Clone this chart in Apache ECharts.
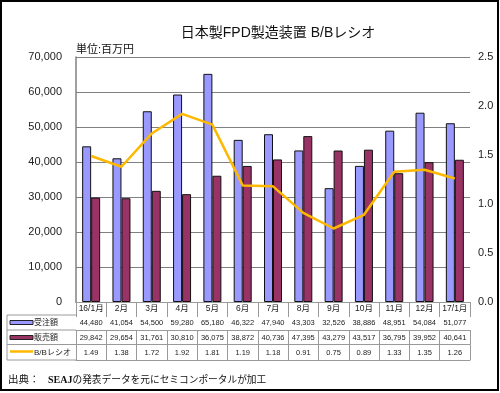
<!DOCTYPE html>
<html>
<head>
<meta charset="utf-8">
<script src="https://cdn.jsdelivr.net/npm/echarts@6/dist/echarts.min.js"></script>
<style>
html,body{margin:0;padding:0;background:#fff;}
#c{width:500px;height:393px;}
</style>
</head>
<body>
<div id="c"></div>
<script>
const title = '日本製FPD製造装置 B/Bレシオ';
const unitLabel = '単位:百万円';
const sourceLabel = '出典：';
const sourceOrg = 'SEAJ';
const sourceText = 'の発表データを元にセミコンポータルが加工';
const categories = ['16/1月','2月','3月','4月','5月','6月','7月','8月','9月','10月','11月','12月','17/1月'];
const seriesNames = ['受注額','販売額','B/Bレシオ'];
const orders = [44480,41054,54500,59280,65180,46322,47940,43303,32526,38886,48951,54084,51077];
const sales  = [29842,29654,31761,30810,36075,38872,40736,47395,43279,43517,36795,39952,40641];
const bbRatio = [1.49,1.38,1.72,1.92,1.81,1.19,1.18,0.91,0.75,0.89,1.33,1.35,1.26];

const fmt = n => String(n).replace(/\B(?=(\d{3})+(?!\d))/g, ',');
const FONT = "'Liberation Sans','Noto Sans CJK JP',sans-serif";
const gridLeft = 76, gridRight = 470, gridTop = 57, gridBottom = 302;
const tableLine = '#9a9a9a';
const rowLines = [315, 330, 344.5, 360];

function tableAxis(offset, tickLen, labels, margin, showLine) {
  return {
    type: 'category', gridIndex: 0, position: 'bottom', offset: offset,
    data: categories,
    boundaryGap: true,
    axisLine: {show: showLine !== false, lineStyle: {color: tableLine, width: 1}},
    axisTick: {show: tickLen > 0, length: tickLen, interval: 0, lineStyle: {color: tableLine}},
    axisLabel: labels ? {show: true, interval: 0, margin: margin, fontSize: 7.5, color: '#222', fontFamily: FONT,
      formatter: (v, i) => labels[i]} : {show: false},
    splitLine: {show: false}
  };
}

const chart = echarts.init(document.getElementById('c'), null, {renderer: 'canvas'});
chart.setOption({
  backgroundColor: '#fff',
  animation: false,
  textStyle: {fontFamily: FONT},
  grid: {left: gridLeft, right: 500 - gridRight, top: gridTop, bottom: 393 - gridBottom, containLabel: false},
  xAxis: [
    {
      type: 'category', data: categories, position: 'bottom', boundaryGap: true,
      axisLine: {show: true, lineStyle: {color: '#808080', width: 1}},
      axisTick: {show: true, length: 13, interval: 0, lineStyle: {color: tableLine}},
      axisLabel: {show: true, interval: 0, margin: 2, fontSize: 8.5, color: '#222', fontFamily: FONT},
      splitLine: {show: false}
    },
    tableAxis(13, 15, orders.map(fmt), 4),
    tableAxis(28, 14.5, sales.map(fmt), 4),
    tableAxis(42.5, 15.5, bbRatio.map(v => v.toFixed(2)), 4.5),
    tableAxis(58, 0, null, 0)
  ],
  yAxis: [
    {
      type: 'value', min: 0, max: 70000, interval: 10000, position: 'left',
      axisLine: {show: true, lineStyle: {color: '#808080', width: 1.5}},
      axisTick: {show: false},
      axisLabel: {margin: 14, fontSize: 11, color: '#222', formatter: v => fmt(v)},
      splitLine: {show: true, lineStyle: {color: '#808080', width: 1}}
    },
    {
      type: 'value', min: 0, max: 2.5, interval: 0.5, position: 'right',
      axisLine: {show: false}, axisTick: {show: false},
      axisLabel: {margin: 8, fontSize: 11, color: '#222', formatter: v => v.toFixed(1)},
      splitLine: {show: false}
    }
  ],
  series: [
    {name: seriesNames[0], type: 'bar', data: orders, barWidth: 9, barGap: '0%',
     itemStyle: {color: '#9999FF', borderColor: '#111', borderWidth: 1}},
    {name: seriesNames[1], type: 'bar', data: sales, barWidth: 9, barGap: '0%',
     itemStyle: {color: '#993366', borderColor: '#111', borderWidth: 1}},
    {name: seriesNames[2], type: 'line', yAxisIndex: 1, data: bbRatio, showSymbol: false, symbol: 'none',
     lineStyle: {color: '#FFB800', width: 2.5}, z: 5}
  ],
  graphic: [
    {type: 'rect', shape: {x: 1, y: 1, width: 497, height: 389}, style: {fill: 'none', stroke: '#000', lineWidth: 2}, silent: true},
    {type: 'text', x: 278, y: 33, style: {text: title, fontSize: 14, fontFamily: FONT, fill: '#111', textAlign: 'center', textVerticalAlign: 'middle'}},
    {type: 'text', x: 76, y: 50, style: {text: unitLabel, fontSize: 11, fontFamily: FONT, fill: '#111', textAlign: 'left', textVerticalAlign: 'middle'}},
    // left column of the data table
    {type: 'line', shape: {x1: 7, y1: rowLines[0], x2: gridLeft, y2: rowLines[0]}, style: {stroke: tableLine, lineWidth: 1}},
    {type: 'line', shape: {x1: 7, y1: rowLines[1], x2: gridLeft, y2: rowLines[1]}, style: {stroke: tableLine, lineWidth: 1}},
    {type: 'line', shape: {x1: 7, y1: rowLines[2], x2: gridLeft, y2: rowLines[2]}, style: {stroke: tableLine, lineWidth: 1}},
    {type: 'line', shape: {x1: 7, y1: rowLines[3], x2: gridLeft, y2: rowLines[3]}, style: {stroke: tableLine, lineWidth: 1}},
    {type: 'line', shape: {x1: 7, y1: rowLines[0], x2: 7, y2: rowLines[3]}, style: {stroke: tableLine, lineWidth: 1}},
    {type: 'rect', shape: {x: 10, y: 320.5, width: 23, height: 4}, style: {fill: '#9999FF', stroke: '#222', lineWidth: 1}},
    {type: 'rect', shape: {x: 10, y: 335.5, width: 23, height: 4}, style: {fill: '#993366', stroke: '#222', lineWidth: 1}},
    {type: 'line', shape: {x1: 10, y1: 351.5, x2: 33, y2: 351.5}, style: {stroke: '#FFB800', lineWidth: 2.5}},
    {type: 'text', x: 34, y: 322.5, style: {text: seriesNames[0], fontSize: 8, fontFamily: FONT, fill: '#222', textVerticalAlign: 'middle'}},
    {type: 'text', x: 34, y: 337.5, style: {text: seriesNames[1], fontSize: 8, fontFamily: FONT, fill: '#222', textVerticalAlign: 'middle'}},
    {type: 'text', x: 34, y: 352.5, style: {text: seriesNames[2], fontSize: 8, fontFamily: FONT, fill: '#222', textVerticalAlign: 'middle'}},
    // source line
    {type: 'text', x: 8, y: 380, style: {text: sourceLabel, fontSize: 10.5, fontFamily: FONT, fill: '#111', textVerticalAlign: 'middle'}},
    {type: 'text', x: 48, y: 380, style: {
      text: '{s|' + sourceOrg + '}{t|' + sourceText + '}', textVerticalAlign: 'middle',
      rich: {
        s: {fontSize: 10, fontWeight: 'bold', fontFamily: "'Liberation Serif','DejaVu Serif',serif", fill: '#111'},
        t: {fontSize: 9.7, fontFamily: FONT, fill: '#111'}
      }}}
  ]
});
</script>
</body>
</html>
